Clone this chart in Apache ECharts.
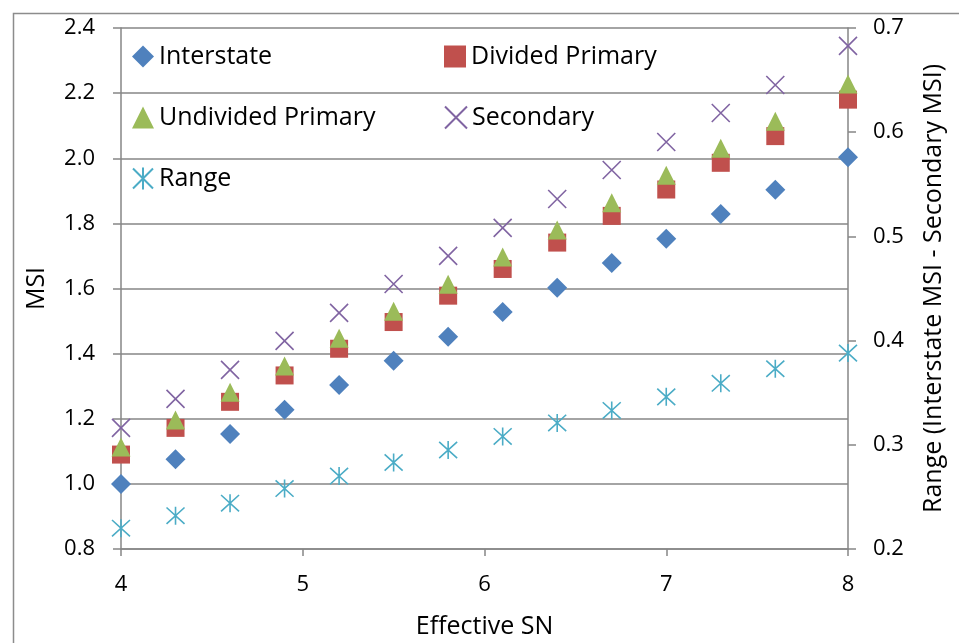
<!DOCTYPE html>
<html>
<head>
<meta charset="utf-8">
<script src="https://cdn.jsdelivr.net/npm/echarts@6/dist/echarts.min.js"></script>
<style>
html,body{margin:0;padding:0;background:#fff;}
#chart{width:959px;height:643px;}
</style>
</head>
<body>
<div id="chart"></div>
<script>
var effectiveSN = [4.0, 4.3, 4.6, 4.9, 5.2, 5.5, 5.8, 6.1, 6.4, 6.7, 7.0, 7.3, 7.6, 8.0];
var interstate = [1.000, 1.076, 1.153, 1.228, 1.304, 1.378, 1.452, 1.528, 1.602, 1.678, 1.753, 1.829, 1.903, 2.003];
var dividedPrimary = [1.090, 1.172, 1.252, 1.333, 1.415, 1.497, 1.578, 1.660, 1.741, 1.823, 1.904, 1.986, 2.068, 2.180];
var undividedPrimary = [1.113, 1.196, 1.281, 1.362, 1.447, 1.530, 1.613, 1.697, 1.780, 1.863, 1.948, 2.031, 2.114, 2.228];
var secondary = [1.172, 1.261, 1.350, 1.439, 1.525, 1.614, 1.700, 1.786, 1.875, 1.964, 2.050, 2.139, 2.225, 2.345];
var rangeVals = [0.220, 0.232, 0.244, 0.258, 0.270, 0.283, 0.295, 0.308, 0.321, 0.333, 0.346, 0.359, 0.373, 0.388];

function pairs(xs, ys) { return xs.map(function (x, i) { return [x, ys[i]]; }); }

var FONT = '"Open Sans", sans-serif';
var AX = '#868686';
var xPath = 'path://M0,0L10,10M10,0L0,10';
var starPath = 'path://M0,0L10,10M10,0L0,10M5,-0.5L5,10.5';

var chart = echarts.init(document.getElementById('chart'), null, {renderer: 'canvas'});
var legendText = {fontFamily: FONT, fontSize: 25, color: '#000'};
function leg(name, left, top) {
  return {data: [name], left: left, top: top, itemWidth: 22, itemHeight: 22, itemGap: 0,
    textStyle: legendText, selectedMode: false, padding: 0};
}
chart.setOption({
  animation: false,
  backgroundColor: '#fff',
  graphic: [{type: 'rect', left: 11, top: 11, shape: {x: 0, y: 0, width: 1000, height: 1000},
    style: {fill: 'none', stroke: '#8c8c8c', lineWidth: 1.5}, silent: true}],
  grid: {left: 121, right: 111, top: 28, bottom: 94, containLabel: false, outerBoundsMode: 'none'},
  legend: [
    leg('Interstate', 132, 44),
    leg('Divided Primary', 444, 44),
    leg('Undivided Primary', 132, 105),
    leg('Secondary', 444, 105),
    leg('Range', 132, 166)
  ],
  xAxis: {
    type: 'value', min: 4, max: 8, interval: 1,
    name: 'Effective SN', nameLocation: 'middle', nameGap: 65,
    nameTextStyle: {fontFamily: FONT, fontSize: 25, color: '#000'},
    axisLine: {show: true, lineStyle: {color: AX, width: 1.5}},
    axisTick: {show: true, length: 7, lineStyle: {color: AX, width: 1.5}},
    axisLabel: {fontFamily: FONT, fontSize: 22, color: '#000', margin: 25},
    splitLine: {show: false}
  },
  yAxis: [{
    type: 'value', min: 0.8, max: 2.4, interval: 0.2,
    name: 'MSI', nameLocation: 'middle', nameGap: 72, nameRotate: 90,
    nameTextStyle: {fontFamily: FONT, fontSize: 25, color: '#000'},
    axisLine: {show: true, lineStyle: {color: AX, width: 1.5}},
    axisTick: {show: true, length: 8, lineStyle: {color: AX, width: 1.5}},
    axisLabel: {fontFamily: FONT, fontSize: 22, color: '#000', margin: 26,
      formatter: function (v) { return v.toFixed(1); }},
    splitLine: {show: true, lineStyle: {color: AX, width: 1.5}}
  }, {
    type: 'value', min: 0.2, max: 0.7, interval: 0.1, position: 'right',
    name: 'Range (Interstate MSI - Secondary MSI)', nameLocation: 'middle', nameGap: 73, nameRotate: 90,
    nameTextStyle: {fontFamily: FONT, fontSize: 25, color: '#000'},
    axisLine: {show: true, lineStyle: {color: AX, width: 1.5}},
    axisTick: {show: true, length: 8, inside: false, lineStyle: {color: AX, width: 1.5}},
    axisLabel: {fontFamily: FONT, fontSize: 22, color: '#000', margin: 25,
      formatter: function (v) { return v.toFixed(1); }},
    splitLine: {show: false}
  }],
  series: [
    {name: 'Interstate', type: 'scatter', yAxisIndex: 0, symbol: 'diamond', symbolSize: 20,
      itemStyle: {color: '#4F81BD', opacity: 1}, data: pairs(effectiveSN, interstate)},
    {name: 'Divided Primary', type: 'scatter', yAxisIndex: 0, symbol: 'rect', symbolSize: 18,
      itemStyle: {color: '#C0504D', opacity: 1}, data: pairs(effectiveSN, dividedPrimary)},
    {name: 'Undivided Primary', type: 'scatter', yAxisIndex: 0, symbol: 'triangle', symbolSize: [19, 19],
      itemStyle: {color: '#9BBB59', opacity: 1}, data: pairs(effectiveSN, undividedPrimary)},
    {name: 'Secondary', type: 'scatter', yAxisIndex: 0, symbol: xPath, symbolSize: 18,
      itemStyle: {color: '#8064A2', borderColor: '#8064A2', borderWidth: 1.6, opacity: 1}, data: pairs(effectiveSN, secondary)},
    {name: 'Range', type: 'scatter', yAxisIndex: 1, symbol: starPath, symbolSize: 18,
      itemStyle: {color: '#4BACC6', borderColor: '#4BACC6', borderWidth: 1.6, opacity: 1}, data: pairs(effectiveSN, rangeVals)}
  ]
});
</script>
</body>
</html>
